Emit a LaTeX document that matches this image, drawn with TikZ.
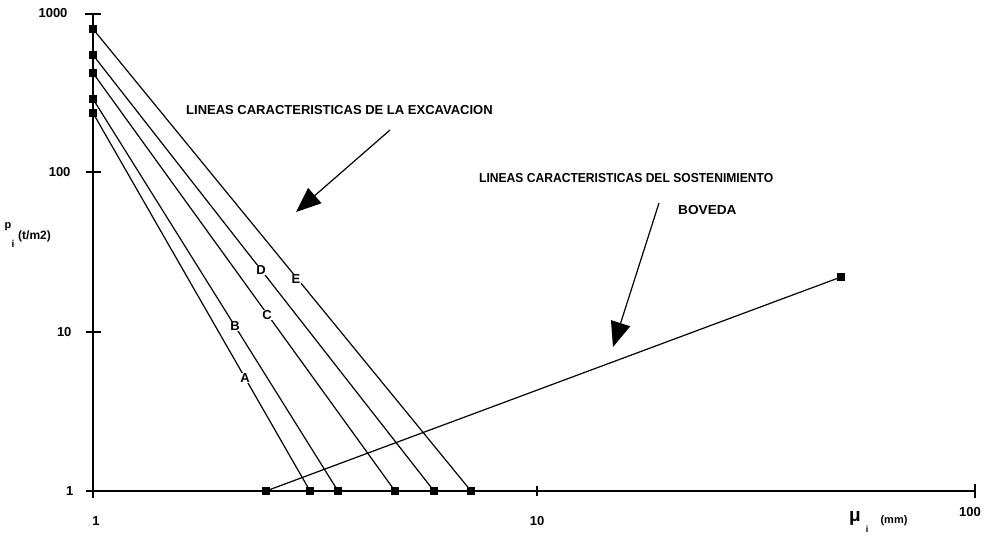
\documentclass[tikz,border=0pt]{standalone}
\usepackage{fontspec}
\setmainfont{Liberation Sans}
\usetikzlibrary{arrows.meta}
\begin{document}
\begin{tikzpicture}[x=1pt,y=-1pt,
  ax/.style={line width=1.2pt},
  dl/.style={line width=1.2pt},
  mk/.style={fill=black,minimum size=8pt,inner sep=0pt,draw=none,rectangle},
  lbl/.style={font=\bfseries\fontsize{13}{13}\selectfont,inner sep=0.5pt,fill=white},
  num/.style={font=\bfseries\fontsize{13}{13}\selectfont},
  ttl/.style={font=\bfseries\fontsize{13}{13}\selectfont},
  bigarrow/.style={line width=1.2pt,-{Triangle[length=25pt,width=20pt]}}]
\useasboundingbox (0,0) rectangle (990,540);
% axes
\coordinate (ytop) at (93,13);
\coordinate (ybot) at (93,498);
\coordinate (xl) at (86,491);
\coordinate (xr) at (975,491);
\draw[ax] (ytop) -- (ybot);
\draw[ax] (xl) -- (xr);
\draw[ax] (85,14) -- (101,14);
\draw[ax] (86,172) -- (101,172);
\draw[ax] (86,332) -- (101,332);
\draw[ax] (975,484) -- (975,498);
\draw[ax] (537,486) -- (537,496);
% tick labels
\node[num,anchor=east] (y1000) at (71,13) {1000};
\node[num,anchor=east] (y100) at (74,172) {100};
\node[num,anchor=east] (y10) at (75,332) {10};
\node[num,anchor=east] (y1) at (77,491) {1};
\node[num] (x1) at (96,521) {1};
\node[num] (x10) at (537,521) {10};
\node[num] (x100) at (970,512) {100};
% axis titles
\node[font=\bfseries\fontsize{11}{11}\selectfont,inner sep=0pt] (pp) at (8,227) {p};
\node[font=\bfseries\fontsize{10}{10}\selectfont,inner sep=0pt] (pi) at (13,244) {i};
\node[font=\bfseries\fontsize{12}{12}\selectfont,inner sep=0pt,anchor=west] (pu) at (18,236) {(t/m2)};
\node[font=\bfseries\fontsize{19}{19}\selectfont,inner sep=0pt] (mu) at (855,518) {μ};
\node[font=\bfseries\fontsize{9}{9}\selectfont,inner sep=0pt] (mui) at (867,529) {i};
\node[font=\bfseries\fontsize{11}{11}\selectfont,inner sep=0pt] (mum) at (894,521) {(mm)};
% markers
\node[mk] (a0) at (93,113) {};
\node[mk] (b0) at (93,99) {};
\node[mk] (c0) at (93,73) {};
\node[mk] (d0) at (93,55) {};
\node[mk] (e0) at (93,29) {};
\node[mk] (a1) at (310,491) {};
\node[mk] (b1) at (338,491) {};
\node[mk] (c1) at (395,491) {};
\node[mk] (d1) at (434,491) {};
\node[mk] (e1) at (471,491) {};
\node[mk] (s0) at (266,491) {};
\node[mk] (s1) at (841,277) {};
% lines
\draw[dl] (a0.center) -- (a1.center);
\draw[dl] (b0.center) -- (b1.center);
\draw[dl] (c0.center) -- (c1.center);
\draw[dl] (d0.center) -- (d1.center);
\draw[dl] (e0.center) -- (e1.center);
\draw[dl] (s0.center) -- (s1.center);
% curve labels
\node[lbl] (la) at (245,378) {A};
\node[lbl] (lb) at (235,326) {B};
\node[lbl] (lc) at (267,315) {C};
\node[lbl] (ld) at (261,270) {D};
\node[lbl] (le) at (296,279) {E};
% titles
\node[ttl,anchor=west,inner sep=0pt] (t1) at (186,110) {LINEAS CARACTERISTICAS DE LA EXCAVACION};
\node[ttl,anchor=west,inner sep=0pt] (t2) at (479,178) {\scalebox{0.93}[1]{LINEAS CARACTERISTICAS DEL SOSTENIMIENTO}};
\node[ttl,anchor=west,inner sep=0pt] (t3) at (678,210) {\scalebox{1.05}[1]{BOVEDA}};
% arrows
\coordinate (ar1s) at (390,130);
\coordinate (ar1e) at (296,212);
\coordinate (ar2s) at (659,203);
\coordinate (ar2e) at (613,347);
\draw[bigarrow] (ar1s) -- (ar1e);
\draw[bigarrow] (ar2s) -- (ar2e);
\end{tikzpicture}
\end{document}
